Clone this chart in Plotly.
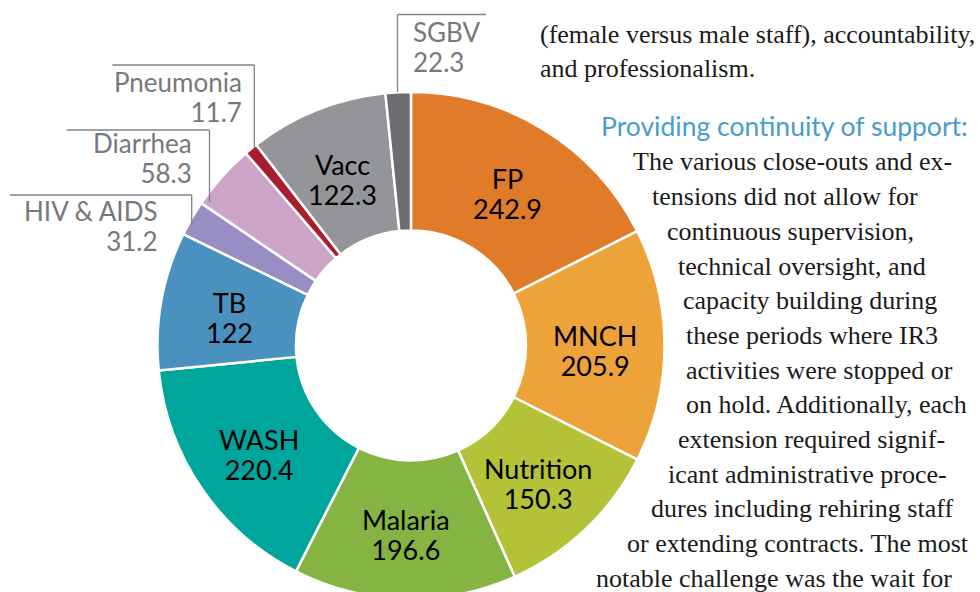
import math
import plotly.graph_objects as go

# Funding by health area (USD thousands), clockwise from 12 o'clock
areas = ["FP", "MNCH", "Nutrition", "Malaria", "WASH", "TB",
         "HIV & AIDS", "Diarrhea", "Pneumonia", "Vacc", "SGBV"]
amounts = [242.9, 205.9, 150.3, 196.6, 220.4, 122, 31.2, 58.3, 11.7, 122.3, 22.3]
colors = ["#E07B29", "#EDA23A", "#B4C237", "#85B442", "#00A69C", "#4A91BF",
          "#988EC3", "#CBA4C7", "#A81E2D", "#939598", "#6D6E71"]
# small slices get a callout label outside the ring instead of inside text
callout = ["SGBV", "Pneumonia", "Diarrhea", "HIV & AIDS"]

body_lines = [
    "The various close-outs and ex-",
    "tensions did not allow for",
    "continuous supervision,",
    "technical oversight, and",
    "capacity building during",
    "these periods where IR3",
    "activities were stopped or",
    "on hold. Additionally, each",
    "extension required signif-",
    "icant administrative proce-",
    "dures including rehiring staff",
    "or extending contracts. The most",
    "notable challenge was the wait for",
]
body_left = [631, 650, 665, 676, 681, 684, 684, 684, 676, 666, 649, 625, 594]

W, H = 980, 600
SANS = "Lato, 'Gill Sans', sans-serif"
SERIF = "'Liberation Serif', 'EB Garamond', serif"
GREY = "#77787B"
LATO_ASC, LATO_DESC = 0.987, 0.213


def px(x):
    return x / W


def py(y):
    return 1 - y / H


cx, cy, r_out, r_in = 411, 345.5, 253.5, 115

fig = go.Figure(go.Pie(
    labels=areas,
    values=amounts,
    sort=False,
    direction="clockwise",
    rotation=0,
    hole=r_in / r_out,
    marker=dict(colors=colors, line=dict(color="white", width=2.5)),
    textinfo="none",
    domain=dict(x=[px(cx - r_out), px(cx + r_out)],
                y=[py(cy + r_out), py(cy - r_out)]),
    hoverinfo="label+value",
    showlegend=False,
))

annotations = []
shapes = []
amount_of = dict(zip(areas, amounts))


def fmt(v):
    return f"{v:g}"


def two_line(top, bottom, x, y_mid, anchor, color, size, gap):
    # two stacked lines; the base font sets the line pitch (1.3 em), the
    # inner spans set the glyph size
    base = gap / 1.3
    txt = (f"<span style='font-size:{size}px'>{top}</span><br>"
           f"<span style='font-size:{size}px'>{bottom}</span>")
    annotations.append(dict(
        text=txt, x=px(x), y=py(y_mid), xref="paper", yref="paper",
        xanchor=anchor, yanchor="middle", align=anchor,
        showarrow=False,
        font=dict(family=SANS, size=base, color=color),
    ))


def callout_label(name, x, mid_baseline, anchor, gap=30):
    # mid_baseline: halfway between the two baselines
    mid = mid_baseline - (LATO_ASC - LATO_DESC) * 26 / 2
    two_line(name, fmt(amount_of[name]), x, mid, anchor, GREY, 26, gap)


def text_line(txt, x, baseline, anchor, family, size, color, ascent, descent):
    # place a single line so that its baseline lands on the given pixel row
    mid = baseline - (ascent - descent) / 2 * size
    annotations.append(dict(
        text=txt, x=px(x), y=py(mid), xref="paper", yref="paper",
        xanchor=anchor, yanchor="middle", showarrow=False,
        font=dict(family=family, size=size, color=color),
    ))


def serif_line(txt, x, baseline):
    text_line(txt, x, baseline, "left", SERIF, 26, "#1A1A1A", 0.891, 0.216)


def leader(points):
    for (x0, y0), (x1, y1) in zip(points[:-1], points[1:]):
        shapes.append(dict(type="line", xref="paper", yref="paper",
                           x0=px(x0), y0=py(y0), x1=px(x1), y1=py(y1),
                           line=dict(color="#808285", width=1.3)))


# inside labels: centred on each slice's mid-angle, halfway across the ring
total = sum(amounts)
r_lab = (r_in + r_out) / 2
cum = 0.0
for name, val in zip(areas, amounts):
    theta = 2 * math.pi * (cum + val / 2) / total
    cum += val
    if name in callout:
        continue
    lx = cx + r_lab * math.sin(theta)
    ly = cy - r_lab * math.cos(theta) + 5
    two_line(name, fmt(val), lx, ly, "center", "black", 27, 30)

# callout labels for the thin slices
callout_label("SGBV", 410.5, 56.7, "left")
leader([(486, 14.5), (397.5, 14.5), (397.5, 92)])

callout_label("Pneumonia", 243.5, 106.7, "right")
leader([(112.5, 65), (254.3, 65), (254.3, 148)])

callout_label("Diarrhea", 193.5, 168.5, "right")
leader([(66.5, 130), (209.5, 130), (209.5, 202)])

callout_label("HIV & AIDS", 159.5, 235.8, "right")
leader([(10, 195), (191.7, 195), (191.7, 224)])

# surrounding report text
serif_line("(female versus male staff), accountability,", 537.5, 43)
serif_line("and professionalism.", 537.5, 77.5)
text_line("Providing continuity of support:", 599, 136, "left", SANS, 26.5,
          "#4A9CCB", LATO_ASC, LATO_DESC)
for i, (line, left) in enumerate(zip(body_lines, body_left)):
    serif_line(line, left, 170.7 + 34.7 * i)

fig.update_layout(
    width=W, height=H,
    margin=dict(l=0, r=0, t=0, b=0),
    paper_bgcolor="white",
    plot_bgcolor="white",
    annotations=annotations,
    shapes=shapes,
)

fig.write_html("out.html")
